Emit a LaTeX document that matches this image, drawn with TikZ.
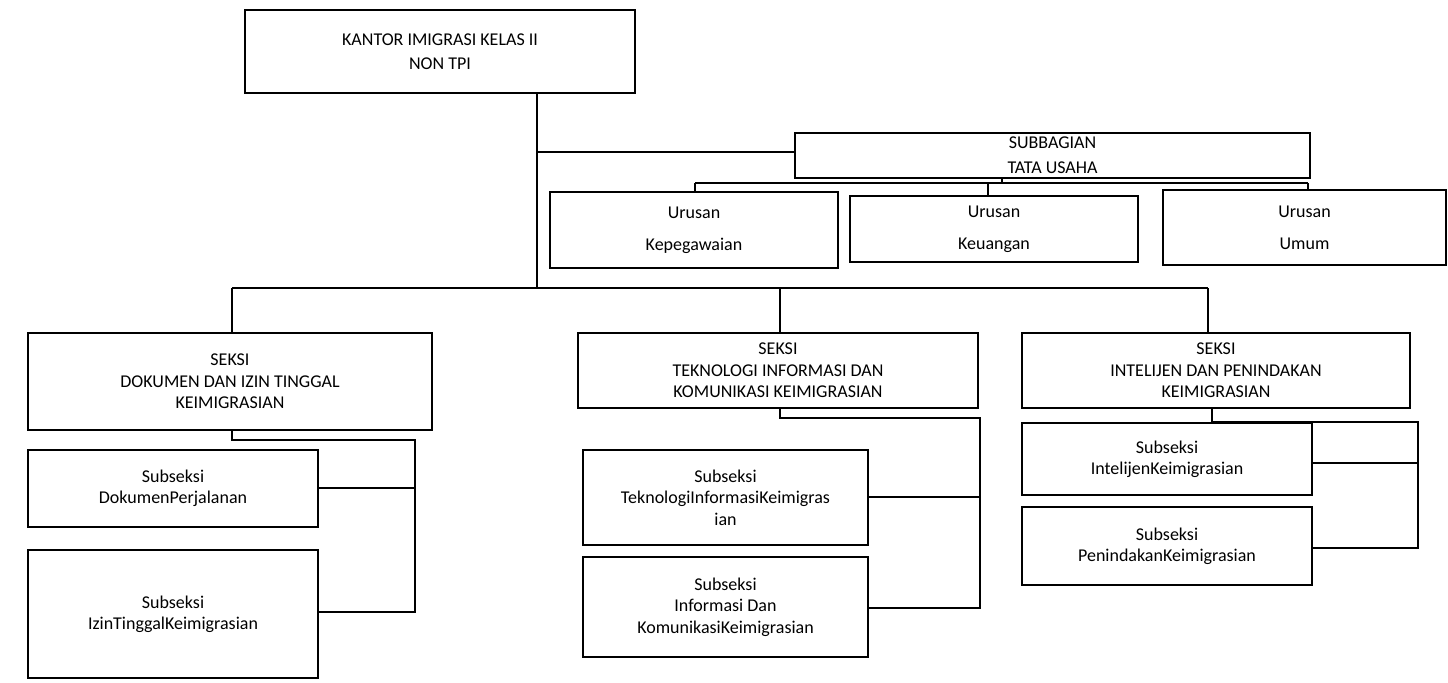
\documentclass[tikz,border=0pt]{standalone}
\usepackage{fontspec}
\setmainfont{Carlito}
\begin{document}
\begin{tikzpicture}[x=0.75pt,y=-0.75pt,
 box/.style={draw,line width=1.3pt,inner sep=0pt,align=center,font=\fontsize{13.5}{16}\selectfont},
 ln/.style={line width=1pt}]
\newcommand\bx[6]{\node[box,minimum width={(#4-#2)*0.75pt},minimum height={(#5-#3)*0.75pt}] (#1) at ({(#2+#4)/2},{(#3+#5)/2}) {#6};}
\useasboundingbox (0,0) rectangle (1448,682);
\bx{top}{245}{10}{635}{93}{KANTOR IMIGRASI KELAS II\\[2pt]NON TPI}
\bx{sub}{795}{133}{1310}{178}{SUBBAGIAN\\[3pt]TATA USAHA}
\bx{u1}{550}{192}{838}{268}{Urusan\\[8pt]Kepegawaian}
\bx{u2}{850}{196}{1138}{262}{Urusan\\[8pt]Keuangan}
\bx{u3}{1163}{190}{1446}{265}{Urusan\\[8pt]Umum}
\bx{s1}{28}{333}{432}{430}{SEKSI\\DOKUMEN DAN IZIN TINGGAL\\KEIMIGRASIAN}
\bx{s2}{578}{333}{978}{408}{SEKSI\\TEKNOLOGI INFORMASI DAN\\KOMUNIKASI KEIMIGRASIAN}
\bx{s3}{1022}{333}{1410}{408}{SEKSI\\INTELIJEN DAN PENINDAKAN\\KEIMIGRASIAN}
\bx{a1}{28}{450}{318}{527}{Subseksi\\DokumenPerjalanan}
\bx{a2}{28}{550}{318}{678}{Subseksi\\IzinTinggalKeimigrasian}
\bx{b1}{583}{450}{868}{545}{Subseksi\\TeknologiInformasiKeimigras\\ian}
\bx{b2}{583}{557}{868}{657}{Subseksi\\Informasi Dan\\KomunikasiKeimigrasian}
\bx{c1}{1022}{423}{1312}{495}{Subseksi\\IntelijenKeimigrasian}
\bx{c2}{1022}{507}{1312}{585}{Subseksi\\PenindakanKeimigrasian}
\coordinate (tp) at (537,93);
\coordinate (m) at (537,288);
\draw[ln] (tp) -- (m);
\draw[ln] (537,152) -- (sub.west |- 0,152);
\draw[ln] (sub.south -| 1002,0) -- (1002,183);
\draw[ln] (695,183) -- (1308,183);
\draw[ln] (695,183) -- (u1.north -| 695,0);
\draw[ln] (988,183) -- (u2.north -| 988,0);
\draw[ln] (1308,183) -- (u3.north -| 1308,0);
\draw[ln] (232,288) -- (1208,288);
\draw[ln] (232,288) -- (s1.north -| 232,0);
\draw[ln] (780,288) -- (s2.north -| 780,0);
\draw[ln] (1208,288) -- (s3.north -| 1208,0);
\draw[ln] (s1.south -| 232,0) -- (232,440) -- (415,440) -- (415,612) -- (a2.east |- 0,612);
\draw[ln] (a1.east |- 0,488) -- (415,488);
\draw[ln] (s2.south -| 780,0) -- (780,418) -- (980,418) -- (980,608) -- (b2.east |- 0,608);
\draw[ln] (b1.east |- 0,497) -- (980,497);
\draw[ln] (s3.south -| 1212,0) -- (1212,422) -- (1418,422) -- (1418,548) -- (c2.east |- 0,548);
\draw[ln] (c1.east |- 0,463) -- (1418,463);
\end{tikzpicture}
\end{document}
